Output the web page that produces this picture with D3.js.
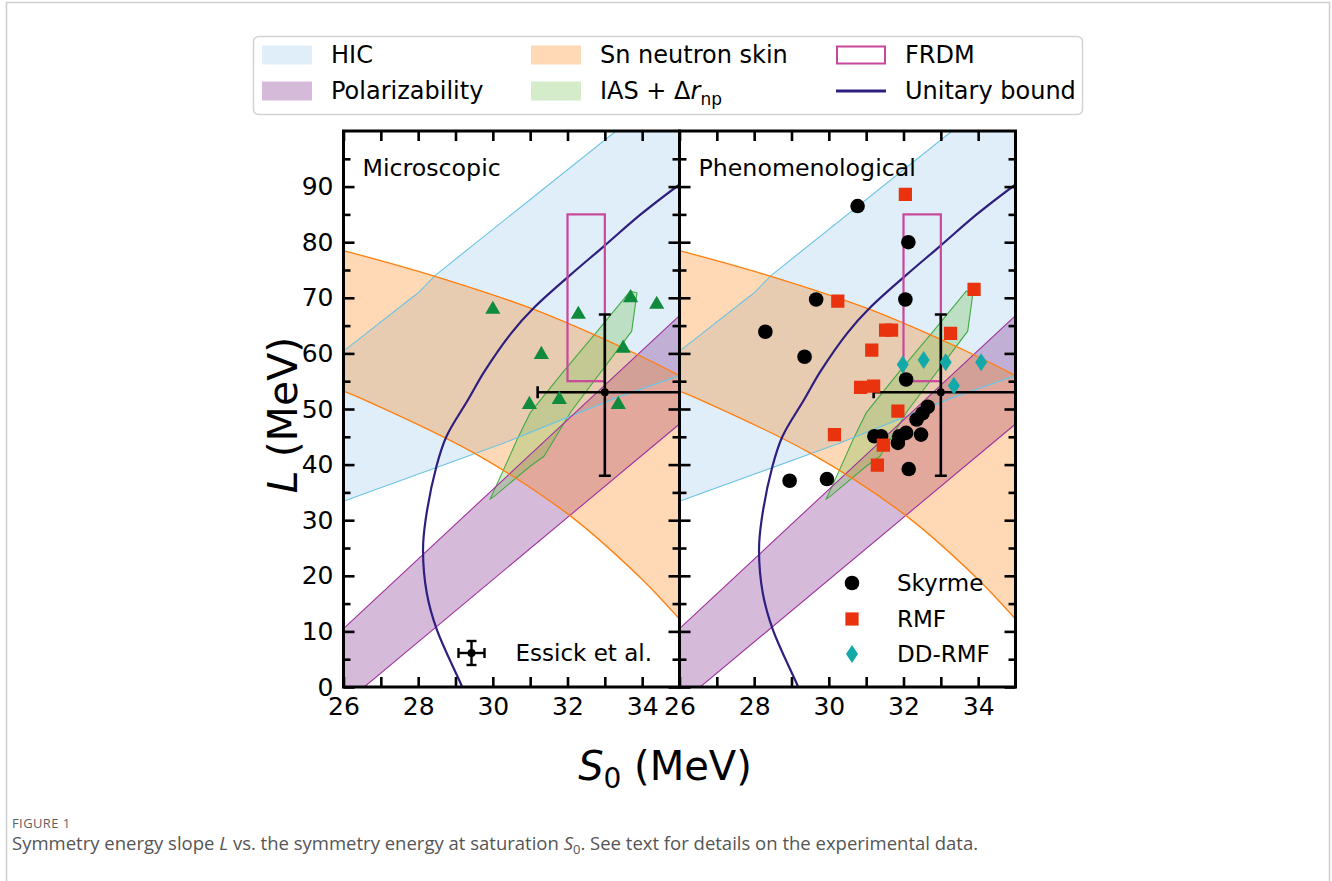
<!DOCTYPE html>
<html>
<head>
<meta charset="utf-8">
<script src="https://cdn.jsdelivr.net/npm/d3@7"></script>
<style>
  body { margin: 0; background: #fff; }
  svg text { font-family: "DejaVu Sans", sans-serif; }
</style>
</head>
<body>
<div id="chart"></div>
<script>
// band boundaries as [S0, L] pairs (MeV)
var hicUpper = [[26, 60.4], [28, 70.9], [28.45, 74], [33.3, 100], [35, 109.2]]
var hicLower = [[26, 33.4], [30.3, 43.9], [33.3, 52], [35, 56]]
var polUpper = [[26, 10.5], [35, 66.8]]
var polLower = [[26, -3.1], [35, 47.3]]
var snUpper = [[26, 78.5], [28.43, 73.9], [31.1, 67.9], [33.87, 59.8], [35, 56]]
var snLower = [[26, 53.2], [26.54, 51.7], [29.49, 42.1], [32.03, 31.0], [33.96, 19.6], [35, 12.2]]
var iasPoly = [[29.93, 33.8], [30.29, 39.1], [30.65, 44.5], [31.0, 49.3], [31.9, 56.8], [32.8, 64.0],
               [33.68, 71.2], [33.86, 70.9], [33.72, 64.0], [32.1, 49.6], [31.37, 41.5], [31.0, 39.7], [30.02, 34.2]]
var unitary = [[29.3, -2], [29.18, 0], [28.5, 10.3], [28.23, 16.9], [28.13, 24.7], [28.2, 30.1], [28.49, 39.7],
               [28.76, 45.1], [29.34, 51.7], [29.78, 56.8], [30.5, 63.7], [31.1, 68.2], [32.04, 73.9],
               [32.98, 79.3], [33.96, 85.0], [35, 90.4]]
var frdmS = [32, 33]
var frdmL = [55, 85]

// Essick et al. point with asymmetric errors
var essickS = 33.0, essickL = 53.0
var essickSErr = [1.8, 2.6]
var essickLErr = [15, 14]

// microscopic calculations (triangles)
var micS = [30.0, 32.29, 33.69, 34.39, 31.3, 33.49, 30.98, 31.78, 33.36]
var micL = [67.9, 67.0, 70.0, 68.8, 59.8, 60.9, 50.8, 51.7, 50.8]

// phenomenological models
var skyS = [30.77, 32.13, 32.05, 29.66, 28.3, 29.35, 32.07, 31.22, 31.40, 31.89, 31.85, 32.07, 32.47, 32.35, 32.51, 32.65, 32.14, 29.95, 28.95]
var skyL = [86.5, 80.0, 69.7, 69.7, 63.9, 59.4, 55.3, 45.1, 45.1, 45.1, 43.9, 45.7, 45.4, 48.1, 49.2, 50.4, 39.2, 37.4, 37.1]
var rmfS = [32.05, 30.24, 31.52, 31.68, 33.89, 33.26, 31.15, 30.85, 31.2, 31.85, 30.15, 31.46, 31.3]
var rmfL = [88.6, 69.4, 64.2, 64.2, 71.5, 63.6, 60.6, 53.9, 54.1, 49.6, 45.4, 43.5, 39.9]
var ddS = [31.98, 32.54, 33.13, 33.35, 34.08]
var ddL = [58.0, 58.8, 58.4, 54.2, 58.4]

// ticks
var xTicks = d3.range(26, 35)
var yMajor = d3.range(0, 100, 10)
var yMinor = d3.range(5, 100, 10)

// colours
var cHic = "#94c6e8", cHicEdge = "#6cc4e4"
var cPol = "#8a3a96", cPolEdge = "#a0309f"
var cSn = "#ff7f0e"
var cIas = "#6fbf4f", cIasEdge = "#44aa44"
var cFrdm = "#c8479b"
var cUni = "#2e1f7f"

var width = 1332, height = 881
var plotTop = 131, ph = 556, pw = 336
var panelX = [343.5, 679.5]

var svg = d3.select("#chart").append("svg")
  .attr("width", width)
  .attr("height", height)

svg.append("rect")
  .attr("width", width).attr("height", height).attr("fill", "#fff")

// thin page frame
svg.append("rect")
  .attr("x", 6.5).attr("y", 2.5)
  .attr("width", 1323).attr("height", 920)
  .attr("fill", "none").attr("stroke", "#cfcfcf").attr("stroke-width", 1.5)

var x = d3.scaleLinear().domain([26, 35]).range([0, pw])
var y = d3.scaleLinear().domain([0, 100]).range([ph, 0])

var line = d3.line().x(function(d) { return x(d[0]) }).y(function(d) { return y(d[1]) })
var smooth = d3.line().curve(d3.curveCatmullRom).x(function(d) { return x(d[0]) }).y(function(d) { return y(d[1]) })

function bandPath(gen, upper, lower) {
  var back = gen(lower.slice().reverse())
  return gen(upper) + "L" + back.slice(1) + "Z"
}

function drawPanel(idx) {
  var g = svg.append("g").attr("transform", "translate(" + panelX[idx] + "," + plotTop + ")")

  svg.append("clipPath").attr("id", "clip" + idx)
    .append("rect").attr("width", pw).attr("height", ph)

  var c = g.append("g").attr("clip-path", "url(#clip" + idx + ")")

  // HIC band
  c.append("path").attr("d", bandPath(line, hicUpper, hicLower))
    .attr("fill", cHic).attr("fill-opacity", 0.3)
  // polarizability band
  c.append("path").attr("d", bandPath(line, polUpper, polLower))
    .attr("fill", cPol).attr("fill-opacity", 0.35)
  // Sn neutron skin band
  c.append("path").attr("d", bandPath(smooth, snUpper, snLower))
    .attr("fill", cSn).attr("fill-opacity", 0.3)
  // IAS band
  c.append("path").attr("d", line(iasPoly) + "Z")
    .attr("fill", cIas).attr("fill-opacity", 0.3)
    .attr("stroke", cIasEdge).attr("stroke-width", 1.1)

  // band edges
  ;[hicUpper, hicLower].forEach(function(b) {
    c.append("path").attr("d", line(b)).attr("fill", "none").attr("stroke", cHicEdge).attr("stroke-width", 1.1)
  })
  ;[polUpper, polLower].forEach(function(b) {
    c.append("path").attr("d", line(b)).attr("fill", "none").attr("stroke", cPolEdge).attr("stroke-width", 1.1)
  })
  ;[snUpper, snLower].forEach(function(b) {
    c.append("path").attr("d", smooth(b)).attr("fill", "none").attr("stroke", cSn).attr("stroke-width", 1.3)
  })

  // unitary gas bound
  c.append("path").attr("d", smooth(unitary))
    .attr("fill", "none").attr("stroke", cUni).attr("stroke-width", 2.2)

  // FRDM box
  c.append("rect")
    .attr("x", x(frdmS[0])).attr("y", y(frdmL[1]))
    .attr("width", x(frdmS[1]) - x(frdmS[0])).attr("height", y(frdmL[0]) - y(frdmL[1]))
    .attr("fill", "none").attr("stroke", cFrdm).attr("stroke-width", 2.2)

  // Essick et al. error bars
  var eb = c.append("g").attr("stroke", "#000").attr("stroke-width", 2.6)
  eb.append("line")
    .attr("x1", x(essickS - essickSErr[0])).attr("x2", x(essickS + essickSErr[1]))
    .attr("y1", y(essickL)).attr("y2", y(essickL))
  eb.append("line")
    .attr("x1", x(essickS)).attr("x2", x(essickS))
    .attr("y1", y(essickL - essickLErr[0])).attr("y2", y(essickL + essickLErr[1]))
  eb.append("line")
    .attr("x1", x(essickS - essickSErr[0])).attr("x2", x(essickS - essickSErr[0]))
    .attr("y1", y(essickL) - 6).attr("y2", y(essickL) + 6)
  ;[essickL - essickLErr[0], essickL + essickLErr[1]].forEach(function(v) {
    eb.append("line").attr("x1", x(essickS) - 6).attr("x2", x(essickS) + 6)
      .attr("y1", y(v)).attr("y2", y(v))
  })
  c.append("circle").attr("cx", x(essickS)).attr("cy", y(essickL)).attr("r", 4).attr("fill", "#000")

  return {g: g, c: c}
}

var tri = d3.symbol().type(d3.symbolTriangle).size(100)
var sq = d3.symbol().type(d3.symbolSquare).size(175)
var diamond = "M0,-9L6,0L0,9L-6,0Z"

var left = drawPanel(0)
var right = drawPanel(1)

// microscopic triangles
left.c.selectAll(".tri")
  .data(d3.zip(micS, micL))
  .enter()
  .append("path")
  .attr("d", tri)
  .attr("transform", function(d) { return "translate(" + x(d[0]) + "," + y(d[1]) + ")" })
  .attr("fill", "#108a3c")

// phenomenological markers
right.c.selectAll(".sky")
  .data(d3.zip(skyS, skyL))
  .enter()
  .append("circle")
  .attr("cx", function(d) { return x(d[0]) })
  .attr("cy", function(d) { return y(d[1]) })
  .attr("r", 7.3)
  .attr("fill", "#000")

right.c.selectAll(".rmf")
  .data(d3.zip(rmfS, rmfL))
  .enter()
  .append("path")
  .attr("d", sq)
  .attr("transform", function(d) { return "translate(" + x(d[0]) + "," + y(d[1]) + ")" })
  .attr("fill", "#e8330e")

right.c.selectAll(".dd")
  .data(d3.zip(ddS, ddL))
  .enter()
  .append("path")
  .attr("d", diamond)
  .attr("transform", function(d) { return "translate(" + x(d[0]) + "," + y(d[1]) + ")" })
  .attr("fill", "#13a9a9")

// axes with inward ticks on all four sides
function axes(g, labels) {
  var fmt = function(d) { return d % 2 === 0 ? d : "" }
  g.append("g").attr("transform", "translate(0," + ph + ")")
    .call(d3.axisBottom(x).tickValues(xTicks).tickSizeInner(-10).tickSizeOuter(0).tickPadding(10).tickFormat(fmt))
  g.append("g")
    .call(d3.axisTop(x).tickValues(xTicks).tickSizeInner(-10).tickSizeOuter(0).tickFormat(""))
  g.append("g")
    .call(d3.axisLeft(y).tickValues(yMajor).tickSizeInner(-11).tickSizeOuter(0).tickPadding(10)
      .tickFormat(labels ? d3.format("d") : ""))
  g.append("g")
    .call(d3.axisLeft(y).tickValues(yMinor).tickSizeInner(-7).tickSizeOuter(0).tickFormat(""))
  g.append("g").attr("transform", "translate(" + pw + ",0)")
    .call(d3.axisRight(y).tickValues(yMajor).tickSizeInner(-11).tickSizeOuter(0).tickFormat(""))
  g.append("g").attr("transform", "translate(" + pw + ",0)")
    .call(d3.axisRight(y).tickValues(yMinor).tickSizeInner(-7).tickSizeOuter(0).tickFormat(""))

  g.selectAll(".domain").remove()
  g.selectAll(".tick line").attr("stroke", "#000").attr("stroke-width", 2.6)
  g.selectAll(".tick text").attr("font-size", 25).attr("fill", "#000")
    .style("font-family", "DejaVu Sans")

  g.append("rect").attr("width", pw).attr("height", ph)
    .attr("fill", "none").attr("stroke", "#000").attr("stroke-width", 3)
}
axes(left.g, true)
axes(right.g, false)

// panel titles
left.g.append("text").attr("x", 19).attr("y", 45).attr("font-size", 23.7).text("Microscopic")
right.g.append("text").attr("x", 19).attr("y", 45).attr("font-size", 23.7).text("Phenomenological")

// Essick legend in left panel
var el = left.g.append("g").attr("transform", "translate(128,522)")
el.append("g").attr("stroke", "#000").attr("stroke-width", 2.4)
  .call(function(s) {
    s.append("line").attr("x1", -13).attr("x2", 13)
    s.append("line").attr("y1", -12).attr("y2", 12)
    s.append("line").attr("x1", -13).attr("x2", -13).attr("y1", -5).attr("y2", 5)
    s.append("line").attr("x1", 13).attr("x2", 13).attr("y1", -5).attr("y2", 5)
    s.append("line").attr("x1", -5).attr("x2", 5).attr("y1", -12).attr("y2", -12)
    s.append("line").attr("x1", -5).attr("x2", 5).attr("y1", 12).attr("y2", 12)
  })
el.append("circle").attr("r", 4).attr("fill", "#000")
el.append("text").attr("x", 44).attr("dy", "0.35em").attr("font-size", 23).text("Essick et al.")

// model legend in right panel
var modelNames = ["Skyrme", "RMF", "DD-RMF"]
var ml = right.g.append("g").attr("transform", "translate(172.5,0)")
var rows = [452, 488, 523]
ml.append("circle").attr("cy", rows[0]).attr("r", 7.3).attr("fill", "#000")
ml.append("path").attr("d", sq).attr("transform", "translate(0," + rows[1] + ")").attr("fill", "#e8330e")
ml.append("path").attr("d", diamond).attr("transform", "translate(0," + rows[2] + ")").attr("fill", "#13a9a9")
ml.selectAll(".lt").data(modelNames).enter().append("text")
  .attr("x", 45).attr("y", function(d, i) { return rows[i] })
  .attr("dy", "0.35em").attr("font-size", 23).text(function(d) { return d })

// axis titles
svg.append("text")
  .attr("transform", "translate(297,415) rotate(-90)")
  .attr("text-anchor", "middle").attr("font-size", 41)
  .call(function(t) {
    t.append("tspan").attr("font-style", "italic").text("L")
    t.append("tspan").text(" (MeV)")
  })
svg.append("text")
  .attr("x", 665).attr("y", 780)
  .attr("text-anchor", "middle").attr("font-size", 40)
  .call(function(t) {
    t.append("tspan").attr("font-style", "italic").text("S")
    t.append("tspan").attr("font-size", 28).attr("dy", 8).text("0")
    t.append("tspan").attr("dy", -8).text(" (MeV)")
  })

// top legend
var lg = svg.append("g")
lg.append("rect").attr("x", 253.5).attr("y", 36.5).attr("width", 829).attr("height", 78).attr("rx", 5)
  .attr("fill", "#fff").attr("stroke", "#d2d2d2").attr("stroke-width", 1.5)
var colX = [262, 531, 836]
var rowY = [55, 91]
function patch(cx, cy, fill, op) {
  lg.append("rect").attr("x", cx).attr("y", cy - 9.5).attr("width", 50).attr("height", 19)
    .attr("fill", fill).attr("fill-opacity", op)
}
function label(cx, cy, txt) {
  return lg.append("text").attr("x", cx + 69).attr("y", cy).attr("dy", "0.35em").attr("font-size", 24).text(txt)
}
patch(colX[0], rowY[0], cHic, 0.3); label(colX[0], rowY[0], "HIC")
patch(colX[0], rowY[1], cPol, 0.35); label(colX[0], rowY[1], "Polarizability")
patch(colX[1], rowY[0], cSn, 0.3); label(colX[1], rowY[0], "Sn neutron skin")
patch(colX[1], rowY[1], cIas, 0.3)
label(colX[1], rowY[1], "IAS + Δ")
  .call(function(t) {
    t.append("tspan").attr("font-style", "italic").text("r")
    t.append("tspan").attr("font-size", 17).attr("dy", 6).text("np")
  })
lg.append("rect").attr("x", colX[2] + 1).attr("y", rowY[0] - 8.5).attr("width", 48).attr("height", 17)
  .attr("fill", "none").attr("stroke", cFrdm).attr("stroke-width", 2)
label(colX[2], rowY[0], "FRDM")
lg.append("line").attr("x1", colX[2]).attr("x2", colX[2] + 50).attr("y1", rowY[1]).attr("y2", rowY[1])
  .attr("stroke", cUni).attr("stroke-width", 3)
label(colX[2], rowY[1], "Unitary bound")

// caption
svg.append("text").attr("x", 12).attr("y", 828)
  .attr("font-size", 13).attr("fill", "#5f5f5f").attr("letter-spacing", 0.4)
  .style("font-family", "Open Sans").text("FIGURE 1")
svg.append("text").attr("x", 12).attr("y", 850)
  .attr("font-size", 18.5).attr("fill", "#555")
  .style("font-family", "Open Sans")
  .call(function(t) {
    t.append("tspan").text("Symmetry energy slope ")
    t.append("tspan").attr("font-style", "italic").text("L")
    t.append("tspan").text(" vs. the symmetry energy at saturation ")
    t.append("tspan").attr("font-style", "italic").text("S")
    t.append("tspan").attr("font-size", 13).attr("dy", 4).text("0")
    t.append("tspan").attr("dy", -4).text(". See text for details on the experimental data.")
  })
</script>
</body>
</html>
